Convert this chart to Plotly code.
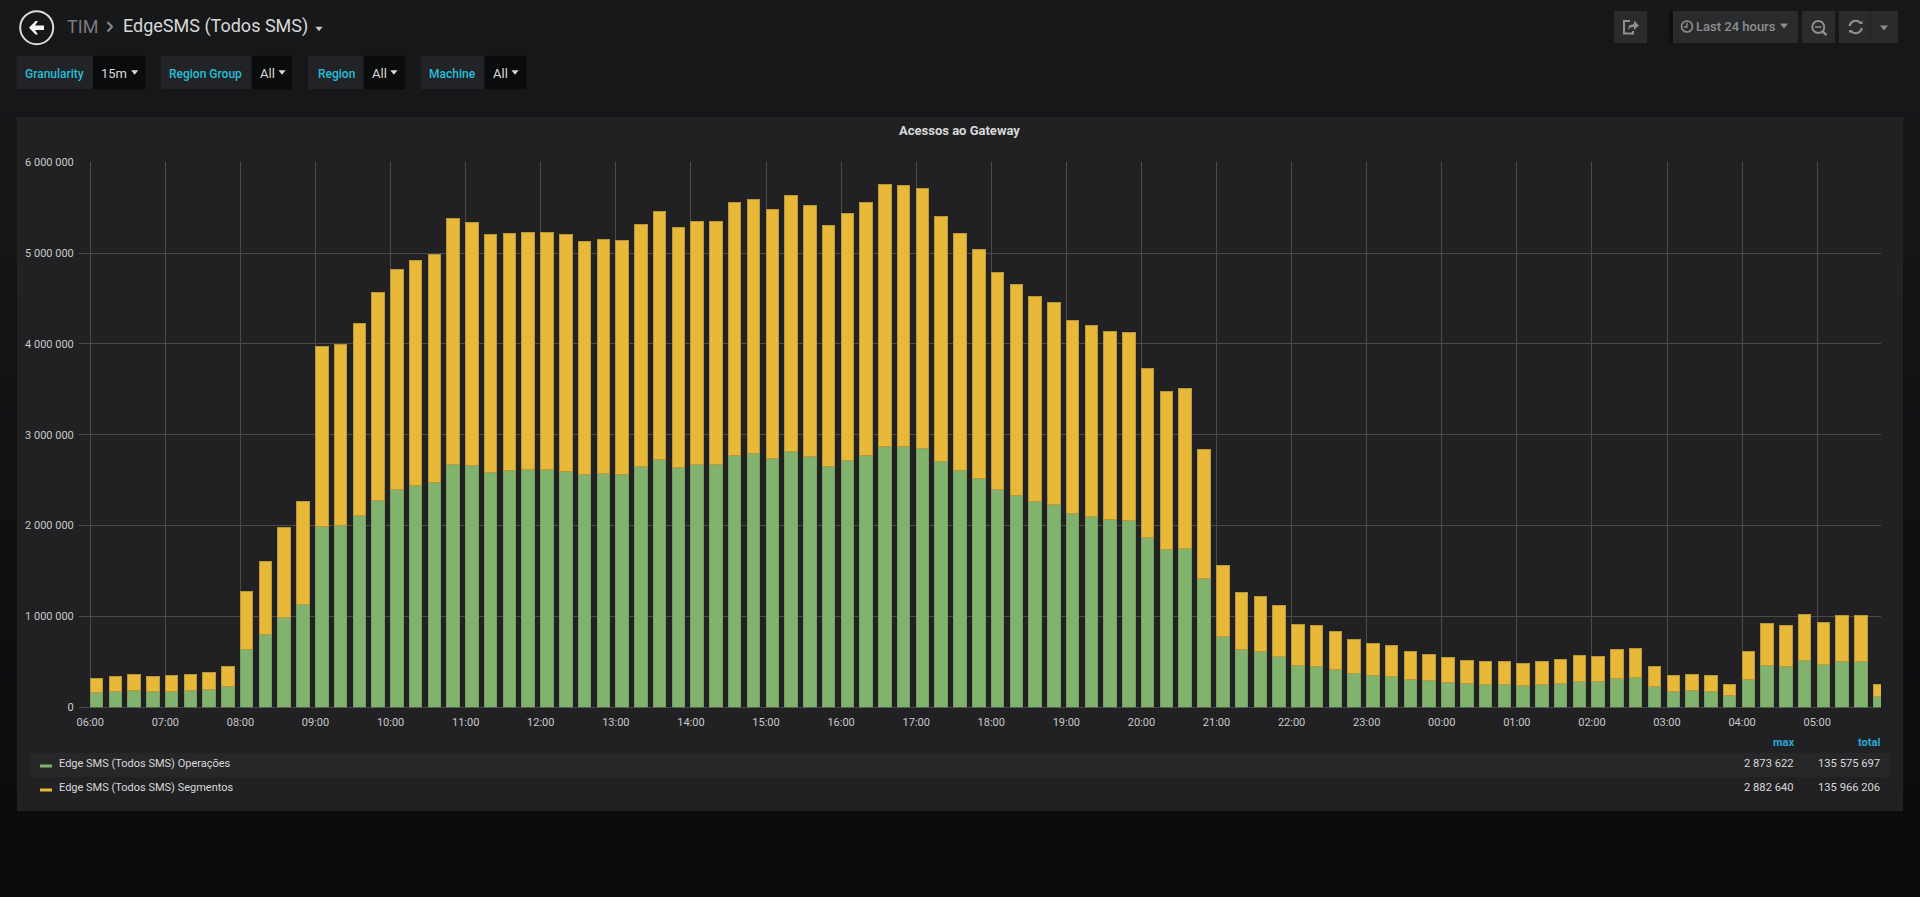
import math
import pandas as pd
import plotly.graph_objects as go

W, H = 1920, 897

# ---- data ----
operacoes = [
    164000, 176000, 188000, 176000, 176000, 188000, 192000, 232000,
    636000, 805000, 989000, 1133000, 1989000, 2002000, 2114000, 2278000,
    2398000, 2446000, 2478000, 2674000, 2658000, 2586000, 2610000, 2618000,
    2614000, 2598000, 2566000, 2574000, 2566000, 2654000, 2730000, 2642000,
    2670000, 2670000, 2774000, 2798000, 2734000, 2818000, 2762000, 2654000,
    2718000, 2774000, 2873622, 2866000, 2854000, 2702000, 2610000, 2522000,
    2398000, 2334000, 2266000, 2230000, 2134000, 2102000, 2070000, 2062000,
    1865000, 1737000, 1753000, 1421000, 781000, 636000, 612000, 560000,
    458000, 454000, 418000, 374000, 352000, 341000, 308000, 293000,
    271000, 260000, 253000, 253000, 242000, 253000, 264000, 286000,
    286000, 319000, 330000, 227000, 176000, 183000, 176000, 125000,
    308000, 462000, 451000, 513000, 469000, 505000, 505000, 117000,
]
segmentos = [
    156000, 168000, 176000, 168000, 176000, 176000, 188000, 220000,
    640000, 801000, 989000, 1137000, 1985000, 1993000, 2110000, 2286000,
    2418000, 2474000, 2506000, 2702000, 2678000, 2614000, 2610000, 2610000,
    2614000, 2602000, 2562000, 2574000, 2570000, 2658000, 2730000, 2642000,
    2674000, 2674000, 2782000, 2794000, 2742000, 2818000, 2766000, 2650000,
    2722000, 2778000, 2882640, 2878000, 2862000, 2702000, 2602000, 2514000,
    2394000, 2322000, 2258000, 2230000, 2126000, 2102000, 2062000, 2062000,
    1865000, 1741000, 1761000, 1417000, 781000, 628000, 608000, 560000,
    454000, 451000, 421000, 374000, 352000, 341000, 311000, 289000,
    275000, 260000, 253000, 249000, 242000, 249000, 264000, 286000,
    275000, 319000, 322000, 227000, 172000, 179000, 176000, 121000,
    311000, 465000, 451000, 513000, 465000, 505000, 509000, 136000,
]
times = pd.date_range("2018-06-01 06:00", periods=96, freq="15min")
series_names = ["Edge SMS (Todos SMS) Operações", "Edge SMS (Todos SMS) Segmentos"]
series_max = ["2 873 622", "2 882 640"]
series_total = ["135 575 697", "135 966 206"]
filters = [
    ("Granularity", "15m", 16.3, 93, 145.3, 24.8, 101, 134.7),
    ("Region Group", "All", 160.8, 251.8, 292, 169.4, 259.6, 282),
    ("Region", "All", 308, 363.7, 405, 317.6, 371.8, 393.9),
    ("Machine", "All", 421, 484.5, 526.5, 429, 493, 515),
]

GREEN, YELLOW = "#81b36f", "#e8b838"
FONT = "Roboto"

def px(x):
    return x / W

def py(y):
    return 1 - y / H

shapes, notes = [], []

def rect(x0, y0, x1, y1, fill, line=None):
    shapes.append(dict(type="rect", xref="paper", yref="paper", layer="below",
                       x0=px(x0), x1=px(x1), y0=py(y0), y1=py(y1),
                       fillcolor=fill, line=dict(width=1 if line else 0, color=line or fill)))

def poly(points, fill=None, line=None, width=1.5, close=False):
    d = "M " + " L ".join(f"{px(a):.6f},{py(b):.6f}" for a, b in points) + (" Z" if close else "")
    shapes.append(dict(type="path", xref="paper", yref="paper", layer="above", path=d,
                       fillcolor=fill or "rgba(0,0,0,0)",
                       line=dict(width=width if line else 0, color=line or "rgba(0,0,0,0)")))

def circle(cx, cy, r, line, width=1.5):
    shapes.append(dict(type="circle", xref="paper", yref="paper", layer="above",
                       x0=px(cx - r), x1=px(cx + r), y0=py(cy - r), y1=py(cy + r),
                       line=dict(color=line, width=width)))

def arc(cx, cy, r, a0, a1, n=14):
    return [(cx + r * math.cos(math.radians(a0 + (a1 - a0) * i / n)),
             cy + r * math.sin(math.radians(a0 + (a1 - a0) * i / n))) for i in range(n + 1)]

def caret(cx, cy, s, color):
    poly([(cx - s, cy - s * 0.6), (cx + s, cy - s * 0.6), (cx, cy + s * 0.6)], fill=color, close=True)

def text(x, y, s, size=12, color="#d8d9da", anchor="left", weight=400):
    notes.append(dict(xref="paper", yref="paper", x=px(x), y=py(y), text=s, showarrow=False,
                      xanchor=anchor, yanchor="middle", borderpad=0, borderwidth=0,
                      font=dict(family=FONT, size=size, color=color, weight=weight)))

# page gradient
steps = 24
for i in range(steps):
    t = i / (steps - 1)
    c = (round(23 - 13 * t), round(24 - 13 * t), round(26 - 13 * t))
    rect(0, H * i / steps, W, H * (i + 1) / steps + 1, f"rgb{c}")

# header
circle(36.7, 27.7, 16.5, "#dcdcdc", 2)
poly([(29, 27.7), (35.5, 21), (38, 21), (35, 25.5), (44, 25.5), (44, 30), (35, 30), (38, 34.5), (35.5, 34.5)],
     fill="#f2f2f2", close=True)
text(67.3, 26.5, "TIM", 18, "#7b7b7e")
poly([(107.5, 22), (112, 26.7), (107.5, 31.5)], line="#8a8a8a", width=2)
text(123.3, 26.5, "EdgeSMS (Todos SMS)", 18, "#d8d9da")
caret(319, 29, 3.6, "#c8c8c8")

# toolbar
BTN, ICON = "#2a2b2d", "#8e8e90"
rect(1614, 11, 1647, 43, BTN)
rect(1669, 11, 1673, 43, "#0e0f11")
rect(1673, 11, 1798, 43, BTN)
rect(1802, 11, 1835, 43, BTN)
rect(1839, 11, 1898, 43, BTN)
rect(1870, 11, 1870.6, 43, "#1d1e20")
poly([(1633, 31), (1633, 33.5), (1624, 33.5), (1624, 21), (1630, 21)], line=ICON, width=2)
poly([(1628, 30), (1629, 25.5), (1634, 24), (1634, 20.5), (1639, 25.5), (1634, 30), (1634, 27), (1630.5, 27.5)],
     fill=ICON, close=True)
circle(1687, 26.5, 5.5, ICON, 1.6)
poly([(1687, 22.5), (1687, 27), (1684, 27)], line=ICON, width=1.3)
text(1696, 26.5, "Last 24 hours", 13, ICON, weight=500)
caret(1784, 26, 4, ICON)
circle(1818.3, 27, 6, ICON, 2)
poly([(1815, 27), (1821.5, 27)], line=ICON, width=1.6)
poly([(1822.5, 31.5), (1826.5, 35)], line=ICON, width=2.4)
poly(arc(1855.7, 27, 6.2, 190, 320), line=ICON, width=2.2)
poly(arc(1855.7, 27, 6.2, 10, 140), line=ICON, width=2.2)
poly([(1859, 24), (1862.5, 24), (1862.5, 20.5)], fill=ICON, close=True)
poly([(1852.5, 30), (1849, 30), (1849, 33.5)], fill=ICON, close=True)
caret(1884, 28, 4, ICON)

# filters
for label, value, x0, x1, x2, tx, vx, cx in filters:
    rect(x0, 55.7, x1, 89.3, "#212327")
    rect(x1, 55.7, x2, 89.3, "#0a0b0d")
    text(tx, 73.5, label, 12, "#25bfd6", weight=500)
    text(vx, 73, value, 13, "#d8d9da")
    caret(cx, 72.5, 3.6, "#d8d9da")

# panel
rect(17, 117, 1903, 811, "#212124")
text(959, 130.5, "Acessos ao Gateway", 13, "#d8d9da", "center", 700)

# legend table
rect(30, 753, 1890, 777, "#272729")
text(1794, 742.5, "max", 11, "#29a8d8", "right", 700)
text(1880, 742.5, "total", 11, "#29a8d8", "right", 700)
for i, (name, mx, tot, col) in enumerate(zip(series_names, series_max, series_total, (GREEN, YELLOW))):
    y = 763.5 + 24 * i
    rect(40, y + 1, 52, y + 4, col)
    text(59, y, name, 11, "#d8d9da")
    text(1794, y, mx, 11.2, "#d8d9da", "right")
    text(1880, y, tot, 11.2, "#d8d9da", "right")

fig = go.Figure()
for vals, name, col, edge in ((operacoes, series_names[0], GREEN, "#75a263"),
                              (segmentos, series_names[1], YELLOW, "#b8983a")):
    fig.add_bar(x=times, y=vals, name=name, offset=0, width=600000,
                marker=dict(color=col, line=dict(color=edge, width=1)))

GRID = "#4a4a4c"
fig.update_layout(
    template="none",
    width=W, height=H, autosize=False, showlegend=False, barmode="stack",
    margin=dict(l=0, r=0, t=0, b=0, pad=0, autoexpand=False),
    paper_bgcolor="#141517", plot_bgcolor="rgba(0,0,0,0)",
    separators=", ", shapes=shapes, annotations=notes, hovermode=False,
    xaxis=dict(domain=[px(79), px(1881)], type="date", automargin=False,
               range=["2018-06-01 05:51", "2018-06-02 05:51"],
               tick0="2018-06-01 06:00", dtick=3600000, tickformat="%H:%M",
               showgrid=True, gridcolor=GRID, gridwidth=1, zeroline=False, showline=False,
               ticks="outside", ticklen=4, tickcolor="rgba(0,0,0,0)",
               tickfont=dict(family=FONT, size=11, color="#c8c9ca")),
    yaxis=dict(domain=[py(707.3), py(162.3)], range=[0, 6000000], tick0=0, dtick=1000000,
               automargin=False, tickformat=",d", showgrid=True, gridcolor=GRID, gridwidth=1,
               zeroline=True, zerolinecolor=GRID, zerolinewidth=1, showline=False,
               ticks="outside", ticklen=2, tickcolor="rgba(0,0,0,0)",
               tickfont=dict(family=FONT, size=11, color="#c8c9ca")),
)

fig.write_html("out.html", config={"displayModeBar": False},
               post_script="document.body.style.margin='0';document.body.style.overflow='hidden';document.body.style.background='#0a0b0d';")
